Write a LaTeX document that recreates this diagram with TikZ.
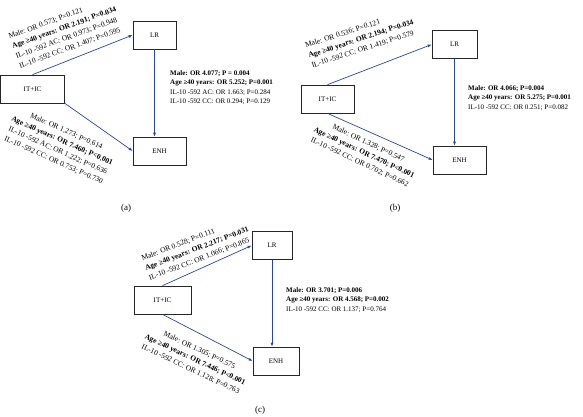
\documentclass[tikz,border=0pt]{standalone}
\usepackage{fontspec}
\setmainfont{Liberation Serif}
\usetikzlibrary{arrows.meta}
\definecolor{pathblue}{RGB}{44,70,160}

\begin{document}
\begin{tikzpicture}[x=1pt, y=-1pt,
        group box/.style={draw=black!85, line width=0.7pt, minimum height=28pt, inner sep=0pt, font=\fontsize{7}{8}\selectfont},
        path arrow/.style={draw=pathblue, line width=0.7pt, -{Latex[length=4pt,width=3pt]}},
        stats/.style={font=\fontsize{7}{9.5}\selectfont, align=left, inner sep=0pt},
        slant stats/.style={font=\fontsize{7.5}{10.5}\selectfont, inner sep=0pt},
        panel label/.style={font=\fontsize{9}{10}\selectfont},
    ]
    \useasboundingbox (0,0) rectangle (583,416);

    % Panel (a)
    \node[group box, minimum width=64pt] (ITICa) at (32.5,89) {IT+IC};
    \node[group box, minimum width=43pt] (LRa) at (154.5,35) {LR};
    \node[group box, minimum width=53pt] (ENHa) at (159.5,151) {ENH};

    \draw[path arrow] (ITICa.north) -- (LRa.west);
    \draw[path arrow] (ITICa.south east) -- (ENHa.west);
    \draw[path arrow] (LRa.south) -- (LRa.south |- ENHa.north);

    \node[slant stats, align=left, rotate=20] (upa) at (66,33) {Male: OR 0.573; P=0.121\\ \textbf{Age ≥40 years: OR 2.191; P=0.034}\\ IL-10 -592 AC: OR 0.973; P=0.948\\ IL-10 -592 CC: OR 1.407; P=0.595};
    \node[slant stats, align=center, rotate=-24] (lowa) at (60,146) {Male: OR 1.273; P=0.614\\ \textbf{Age ≥40 years: OR 7.460; P<0.001}\\ IL-10 -592 AC: OR 1.222; P=0.636\\ IL-10 -592 CC: OR 0.753; P=0.730};
    \node[stats, anchor=north west] (sidea) at (170,70) {\textbf{Male: OR 4.077; P = 0.004}\\ \textbf{Age ≥40 years: OR 5.252; P=0.001}\\ IL-10 -592 AC: OR 1.663; P=0.284\\ IL-10 -592 CC: OR 0.294; P=0.129};
    \node[panel label] (taga) at (126,208) {(a)};

    % Panel (b)
    \node[group box, minimum width=53pt] (ITICb) at (327.5,99) {IT+IC};
    \node[group box, minimum width=45pt] (LRb) at (454.5,44.5) {LR};
    \node[group box, minimum width=53pt] (ENHb) at (459.5,160) {ENH};

    \draw[path arrow] (ITICb.north) -- (LRb.west);
    \draw[path arrow] (ITICb.south) -- (ENHb.west);
    \draw[path arrow] (LRb.south) -- (LRb.south |- ENHb.north);

    \node[slant stats, align=left, rotate=18] (upb) at (361,39) {Male: OR 0.536; P=0.121\\ \textbf{Age ≥40 years: OR 2.194; P=0.034}\\ IL-10 -592 CC: OR 1.419; P=0.579};
    \node[slant stats, align=center, rotate=-25] (lowb) at (364,153) {Male: OR 1.328; P=0.547\\ \textbf{Age ≥40 years: OR 7.470; P<0.001}\\ IL-10 -592 CC: OR 0.702; P=0.662};
    \node[stats, anchor=north west] (sideb) at (468,85) {\textbf{Male: OR 4.066; P=0.004}\\ \textbf{Age ≥40 years: OR 5.275; P=0.001}\\ IL-10 -592 CC: OR 0.251; P=0.082};
    \node[panel label] (tagb) at (395,208) {(b)};

    % Panel (c)
    \node[group box, minimum width=57pt] (ITICc) at (162.5,300) {IT+IC};
    \node[group box, minimum width=40pt] (LRc) at (272,245.5) {LR};
    \node[group box, minimum width=46pt] (ENHc) at (276,361) {ENH};

    \draw[path arrow] (ITICc.north) -- (LRc.west);
    \draw[path arrow] (ITICc.south) -- (ENHc.west);
    \draw[path arrow] (LRc.south) -- (LRc.south |- ENHc.north);

    \node[slant stats, align=left, rotate=21] (upc) at (197,249) {Male: OR 0.528; P=0.111\\ \textbf{Age ≥40 years: OR 2.217; P=0.031}\\ IL-10 -592 CC: OR 1.066; P=0.865};
    \node[slant stats, align=center, rotate=-25] (lowc) at (195,360) {Male: OR 1.305; P=0.575\\ \textbf{Age ≥40 years: OR 7.446; P<0.001}\\ IL-10 -592 CC: OR 1.128; P=0.763};
    \node[stats, anchor=north west] (sidec) at (286,287) {\textbf{Male: OR 3.701; P=0.006}\\ \textbf{Age ≥40 years: OR 4.568; P=0.002}\\ IL-10 -592 CC: OR 1.137; P=0.764};
    \node[panel label] (tagc) at (260,410) {(c)};

\end{tikzpicture}
\end{document}
